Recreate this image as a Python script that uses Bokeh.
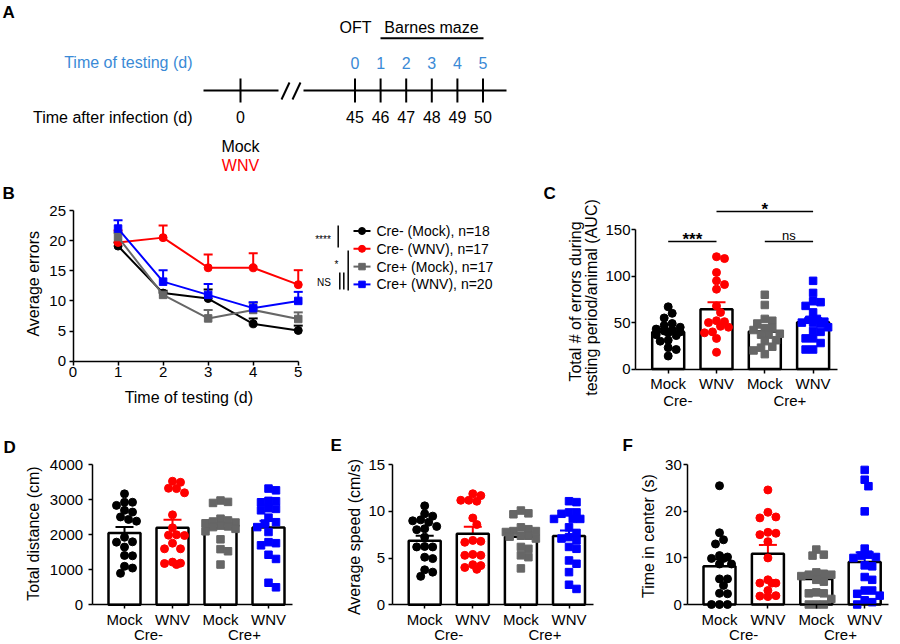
import math
from bokeh.plotting import figure
from bokeh.models import Range1d, FixedTicker, Whisker, TeeHead, ColumnDataSource
from bokeh.layouts import column, row
from bokeh.core.properties import value
from bokeh.embed import file_html
from bokeh.resources import INLINE

FONT = "Liberation Sans"
BLACK, RED, GRAY, BLUE = "#000000", "#ff0000", "#666666", "#0000ff"
TEST_BLUE = "#3a8ad6"

# ---------------- data ----------------
# Panel A (schedule)
testing_days = [0, 1, 2, 3, 4, 5]
infection_days = [45, 46, 47, 48, 49, 50]
infection_start = [0]
infection_groups = ["Mock", "WNV"]

# Panel B (Barnes maze errors per day)
days = [1, 2, 3, 4, 5]
b_labels = ["Cre- (Mock), n=18", "Cre- (WNV), n=17", "Cre+ (Mock), n=17", "Cre+ (WNV), n=20"]
b_neg_mock = [19.1, 11.3, 10.4, 6.2, 5.1]
b_neg_mock_sem = [0.6, 0.4, 1.5, 0.9, 0.8]
b_neg_wnv = [19.7, 20.5, 15.5, 15.5, 12.7]
b_neg_wnv_sem = [2.0, 2.0, 2.2, 2.4, 2.4]
b_pos_mock = [20.6, 11.0, 7.1, 8.5, 7.0]
b_pos_mock_sem = [0.7, 0.5, 1.4, 1.2, 1.1]
b_pos_wnv = [22.0, 13.2, 11.0, 8.8, 10.0]
b_pos_wnv_sem = [1.4, 1.9, 1.8, 1.0, 1.5]
b_stats = ["****", "*", "NS"]

# Bar panels
cats = [1, 2, 3, 4]
cat_labels = ["Mock", "WNV", "Mock", "WNV"]
genotype_labels = ["Cre-", "Cre+"]

# Panel C: total errors (AUC)
c_neg_mock = [67, 60, 55, 49, 47, 45, 43, 42, 41, 40, 39, 37, 36, 31, 30, 23, 21, 14]
c_neg_wnv = [121, 119, 104, 95, 91, 86, 68, 61, 52, 51, 50, 46, 45, 40, 39, 33, 18]
c_pos_mock = [80, 69, 54, 52, 49, 44, 44, 42, 38, 37, 37, 31, 30, 24, 23, 20, 16]
c_pos_wnv = [95, 82, 73, 72, 68, 61, 54, 53, 51, 50, 50, 49, 45, 41, 40, 33, 33, 28, 21, 21]
c_mean = [40.0, 64.5, 40.4, 50.5]
c_sem = [3.3, 7.5, 4.1, 4.2]
c_stats = ["***", "ns", "*"]

# Panel D: total distance (cm)
d_neg_mock = [3170, 2930, 2930, 2840, 2700, 2650, 2510, 2440, 2390, 1930, 1800, 1790, 1650, 1410, 1400, 1100, 1050, 900]
d_neg_wnv = [3530, 3500, 3330, 3320, 3200, 2570, 2200, 2000, 1990, 1980, 1760, 1600, 1600, 1220, 1190, 1180, 1150]
d_pos_mock = [2980, 2940, 2910, 2460, 2410, 2380, 2350, 2330, 2270, 2240, 2220, 2170, 2100, 1870, 1590, 1530, 1150]
d_pos_wnv = [3320, 3270, 2970, 2930, 2960, 2760, 2700, 2740, 2490, 2320, 2360, 2080, 2220, 1760, 1790, 1700, 1430, 1310, 500, 630]
d_mean = [2050, 2200, 2190, 2210]
d_sem = [170, 230, 110, 190]

# Panel E: average speed (cm/s)
e_neg_mock = [10.6, 9.75, 9.5, 9.0, 9.1, 8.85, 8.4, 8.15, 8.05, 7.25, 6.25, 6.2, 6.2, 5.1, 4.95, 3.75, 3.5, 3.05]
e_neg_wnv = [11.9, 11.7, 11.2, 11.2, 11.1, 9.3, 8.6, 6.9, 6.8, 6.7, 5.4, 5.3, 5.3, 4.3, 4.2, 4.0, 3.8]
e_pos_mock = [10.1, 9.7, 9.8, 8.3, 8.1, 7.9, 7.9, 7.8, 7.4, 7.3, 7.1, 7.4, 6.2, 6.0, 5.3, 5.1, 3.9]
e_pos_wnv = [11.1, 11.0, 9.9, 9.75, 9.9, 9.2, 9.2, 9.2, 8.3, 7.1, 6.9, 7.25, 6.2, 6.0, 4.75, 4.4, 3.5, 2.15, 1.7, 7.7]
e_mean = [6.85, 7.6, 7.3, 7.36]
e_sem = [0.55, 0.75, 0.4, 0.6]

# Panel F: time in center (s)
f_neg_mock = [25.5, 15.4, 13.9, 13.0, 10.5, 10.2, 9.9, 9.9, 8.7, 8.7, 5.5, 5.5, 4.1, 2.4, 2.3, 0.0, 0.0, 0.0]
f_neg_wnv = [24.6, 19.8, 18.6, 18.8, 15.3, 15.0, 15.5, 13.5, 10.0, 5.3, 4.6, 4.6, 4.6, 1.7, 1.9, 1.8, 3.0]
f_pos_mock = [11.8, 10.5, 10.7, 6.4, 6.6, 6.9, 6.1, 6.4, 4.9, 5.3, 2.6, 2.4, 2.4, 1.2, 0.0, 0.0, 0.0]
f_pos_wnv = [28.9, 26.8, 25.4, 20.0, 12.0, 10.0, 10.7, 10.2, 8.4, 8.2, 5.9, 5.3, 3.0, 3.0, 1.9, 2.3, 0.0, 0.5, 0.9, 10.5]
f_mean = [8.2, 10.9, 5.5, 9.1]
f_sem = [1.5, 1.9, 0.85, 2.1]

# ---------------- helpers ----------------
def style_axis(ax, label_standoff=3):
    ax.axis_line_width = 1.5
    ax.axis_line_color = "black"
    ax.major_tick_line_width = 1.5
    ax.major_tick_line_color = "black"
    ax.major_tick_out = 4
    ax.major_tick_in = 0
    ax.minor_tick_out = 0
    ax.minor_tick_in = 0
    ax.minor_tick_line_color = None
    ax.major_label_text_font = FONT
    ax.major_label_text_font_size = "15px"
    ax.major_label_text_color = "black"
    ax.major_label_standoff = label_standoff


class Panel:
    """Figure whose frame fills the whole canvas; pixel helpers map canvas px -> data."""
    def __init__(self, W, H, x0px, ppx, y0px, ppy):
        self.x0px, self.ppx, self.y0px, self.ppy = x0px, ppx, y0px, ppy
        xr = (-x0px / ppx, (W - x0px) / ppx)
        yr = ((y0px - H) / ppy, y0px / ppy)
        p = figure(width=W, height=H, title=None, x_range=Range1d(*xr), y_range=Range1d(*yr),
                   output_backend="svg", toolbar_location=None, min_border=0)
        p.outline_line_color = None
        p.grid.visible = False
        p.background_fill_color = "white"
        p.border_fill_color = "white"
        self.p = p

    def X(self, px):
        return (px - self.x0px) / self.ppx

    def Y(self, py):
        return (self.y0px - py) / self.ppy

    def text(self, px, py, s, size="16px", align="center", angle=0.0, bold=False, color="black"):
        self.p.text(x=[self.X(px)], y=[self.Y(py)], text=[s], angle=angle,
                    text_font=value(FONT), text_font_size=value(size), text_align=align,
                    text_baseline="middle", text_font_style="bold" if bold else "normal",
                    text_color=color)

    def letter(self, px, py, s):
        self.text(px, py, s, size="17px", align="left", bold=True)


def swarm(vals, center, ppx, ppy, size, maxoff=15.0):
    d = size * 0.9
    step = size / 2.0
    cands = [0.0]
    k = 1
    while k * step <= maxoff:
        cands += [k * step, -k * step]
        k += 1
    order = sorted(range(len(vals)), key=lambda i: -vals[i])
    placed = []
    xs = [center] * len(vals)
    for i in order:
        py = vals[i] * ppy
        best, best_d = cands[0], -1.0
        for off in cands:
            md = min([math.hypot(off - ox, py - oy) for ox, oy in placed] or [1e9])
            if md >= d:
                best = off
                break
            if md > best_d:
                best, best_d = off, md
        placed.append((best, py))
        xs[i] = center + best / ppx
    return xs


def bar_panel(W, H, cat1px, ppx, y0px, ppy, axis_x, yticks, groups, means, sems,
              ylabel_standoff, group_x, group_py):
    P = Panel(W, H, cat1px - ppx, ppx, y0px, ppy)
    p = P.p
    xa, ya = p.xaxis[0], p.yaxis[0]
    style_axis(xa, 2)
    style_axis(ya, ylabel_standoff)
    xa.fixed_location = 0
    ya.fixed_location = axis_x
    xa.ticker = FixedTicker(ticks=cats)
    xa.major_label_overrides = {c: l for c, l in zip(cats, cat_labels)}
    xa.bounds = (axis_x, 4.5)
    ya.ticker = FixedTicker(ticks=yticks)
    ya.bounds = (0, yticks[-1])

    p.vbar(x=cats, top=means, width=32 / ppx, fill_color="white", line_color="black", line_width=2.5)
    for k, (vals, color, marker, size) in enumerate(groups):
        xs = swarm(vals, cats[k], ppx, ppy, size)
        p.scatter(xs, vals, marker=marker, size=size, fill_color=color, line_color=color)
    for k, (vals, color, marker, size) in enumerate(groups):
        src = ColumnDataSource(dict(x=[cats[k]], lo=[means[k] - sems[k]], hi=[means[k] + sems[k]]))
        p.add_layout(Whisker(source=src, base="x", lower="lo", upper="hi", line_color=color, line_width=2,
                             upper_head=TeeHead(size=18, line_color=color, line_width=2),
                             lower_head=TeeHead(size=18, line_color=color, line_width=2)))
    p.text(x=group_x, y=[P.Y(group_py)] * 2, text=genotype_labels, text_align="center", text_baseline="middle",
           text_font=value(FONT), text_font_size=value("15px"), text_color="black")
    return P


def grp(a, b, c, d):
    return [(a, BLACK, "circle", 8), (b, RED, "circle", 8), (c, GRAY, "square", 7.5), (d, BLUE, "square", 7.5)]

# ---------------- Panel A ----------------
A = Panel(900, 178, 0, 1, 0, -1)       # canvas pixel coordinates, y downwards
pa = A.p
pa.xaxis.visible = False
pa.yaxis.visible = False
tick_x = [354.5 + 25.6 * i for i in range(len(testing_days))]
day0_x = 240
ly = 90
pa.segment(x0=[203, 303], y0=[ly, ly], x1=[278, 506], y1=[ly, ly], line_color="black", line_width=2)
pa.segment(x0=[day0_x] + tick_x, y0=[ly - 12] * 7, x1=[day0_x] + tick_x, y1=[ly + 12] * 7,
           line_color="black", line_width=2)
pa.segment(x0=[281, 292], y0=[99, 99], x1=[289, 300], y1=[82, 82], line_color="black", line_width=2)
pa.segment(x0=[380], y0=[37.7], x1=[483], y1=[37.7], line_color="black", line_width=2)
A.text(355, 26.7, "OFT")
A.text(431, 26.7, "Barnes maze")
A.text(192, 62, "Time of testing (d)", align="right", color=TEST_BLUE)
for x, d in zip(tick_x, testing_days):
    A.text(x, 62, str(d), color=TEST_BLUE)
A.text(192, 116.7, "Time after infection (d)", align="right")
for x, d in zip([day0_x] + tick_x, infection_start + infection_days):
    A.text(x, 116.7, str(d))
A.text(day0_x, 146, infection_groups[0])
A.text(day0_x, 165, infection_groups[1], color=RED)
A.letter(2, 12, "A")

# ---------------- Panel B ----------------
B = Panel(520, 236, 72.5, 45.05, 182.7, 6.028)
pb = B.p
style_axis(pb.xaxis[0], 2)
style_axis(pb.yaxis[0], 3)
pb.xaxis.fixed_location = 0
pb.yaxis.fixed_location = 0
pb.xaxis.ticker = FixedTicker(ticks=[0, 1, 2, 3, 4, 5])
pb.xaxis.bounds = (0, 5)
pb.yaxis.ticker = FixedTicker(ticks=[0, 5, 10, 15, 20, 25])
pb.yaxis.bounds = (0, 25)

series = [(b_neg_mock, b_neg_mock_sem, BLACK, "circle", 8),
          (b_neg_wnv, b_neg_wnv_sem, RED, "circle", 8),
          (b_pos_mock, b_pos_mock_sem, GRAY, "square", 7.5),
          (b_pos_wnv, b_pos_wnv_sem, BLUE, "square", 7.5)]
for k, ((vals, sems, color, marker, size), lab) in enumerate(zip(series, b_labels)):
    src = ColumnDataSource(dict(x=days, y=vals, up=[v + s for v, s in zip(vals, sems)]))
    pb.add_layout(Whisker(source=src, base="x", lower="y", upper="up", line_color=color, line_width=2,
                          upper_head=TeeHead(size=9, line_color=color, line_width=2), lower_head=None))
    pb.line("x", "y", source=src, line_color=color, line_width=2)
    pb.scatter("x", "y", source=src, marker=marker, size=size, fill_color=color, line_color=color)
    # legend entry
    ry = 52.5 + 17.8 * k
    pb.segment(x0=[B.X(353)], y0=[B.Y(ry)], x1=[B.X(370)], y1=[B.Y(ry)], line_color=color, line_width=2)
    pb.scatter([B.X(361.5)], [B.Y(ry)], marker=marker, size=size - 1, fill_color=color, line_color=color)
    B.text(376, ry, lab, size="14px", align="left")
# significance brackets
pb.segment(x0=[B.X(337.7), B.X(347.7), B.X(339.3), B.X(343.3)],
           y0=[B.Y(47), B.Y(72), B.Y(94), B.Y(94)],
           x1=[B.X(337.7), B.X(347.7), B.X(339.3), B.X(343.3)],
           y1=[B.Y(69), B.Y(112), B.Y(111), B.Y(111)], line_color="black", line_width=1.5)
B.text(322.5, 61, b_stats[0], size="10px")
B.text(336, 86, b_stats[1], size="10px")
B.text(323.5, 104, b_stats[2], size="10px")
B.text(33, 105.3, "Average errors", angle=math.pi / 2)
B.text(188.3, 218.5, "Time of testing (d)")
B.letter(2, 15, "B")

# ---------------- Panel C ----------------
C = bar_panel(380, 236, 147.7, 48.3, 190.5, 0.928, 0.323, [0, 50, 100, 150],
              grp(c_neg_mock, c_neg_wnv, c_pos_mock, c_pos_wnv), c_mean, c_sem,
              1, [1.2, 3.52], 222)
pc = C.p
pc.segment(x0=[1, 3, 2], y0=[137.4, 137.4, 169.7], x1=[2, 4, 4], y1=[137.4, 137.4, 169.7],
           line_color="black", line_width=1.5)
pc.text(x=[1.5, 3.0], y=[137.4, 169.7], text=[c_stats[0], c_stats[2]], text_align="center",
        text_baseline="alphabetic", y_offset=-2, text_font=value(FONT), text_font_size=value("17px"),
        text_font_style="bold", text_color="black")
pc.text(x=[3.5], y=[137.4], text=[c_stats[1]], text_align="center", text_baseline="alphabetic", y_offset=-6,
        text_font=value(FONT), text_font_size=value("13px"), text_color="black")
C.text(55, 123, "Total # of errors during", angle=math.pi / 2)
C.text(71, 119, "testing period/animal (AUC)", angle=math.pi / 2)
C.letter(23, 15, "C")

# ---------------- Panels D, E, F ----------------
D = bar_panel(300, 228, 124, 48, 190.3, 0.035, 0.327, [0, 1000, 2000, 3000, 4000],
              grp(d_neg_mock, d_neg_wnv, d_pos_mock, d_pos_wnv), d_mean, d_sem,
              5, [1.5, 3.5], 220)
D.text(32.5, 119, "Total distance (cm)", angle=math.pi / 2)
D.letter(3, 33, "D")

E = bar_panel(300, 228, 124.2, 48.1, 190.3, 9.333, 0.324, [0, 5, 10, 15],
              grp(e_neg_mock, e_neg_wnv, e_pos_mock, e_pos_wnv), e_mean, e_sem,
              3, [1.5, 3.5], 220)
E.text(54, 122.5, "Average speed (cm/s)", angle=math.pi / 2)
E.letter(30, 31, "E")

F = bar_panel(300, 228, 119, 48.4, 190, 4.657, 0.345, [0, 10, 20, 30],
              grp(f_neg_mock, f_neg_wnv, f_pos_mock, f_pos_wnv), f_mean, f_sem,
              2, [1.5, 3.5], 220)
F.text(47.5, 121.6, "Time in center (s)", angle=math.pi / 2)
F.letter(22, 31, "F")

layout = column(pa, row(pb, pc), row(D.p, E.p, F.p))
open("out.html", "w").write(file_html(layout, INLINE))
